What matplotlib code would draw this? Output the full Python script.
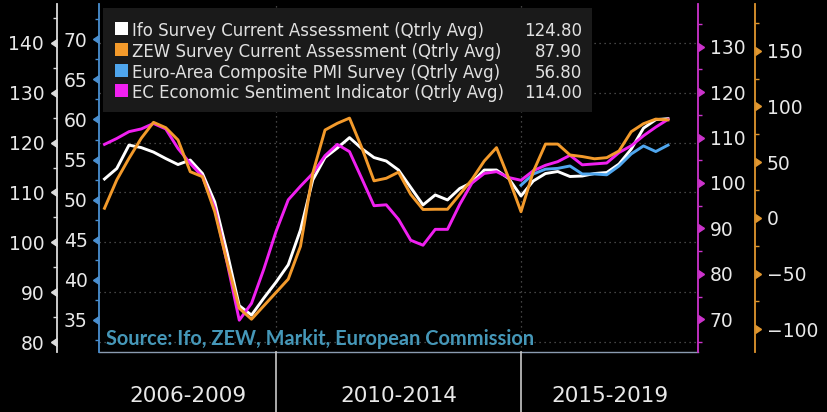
import matplotlib
matplotlib.use("Agg")
import matplotlib.pyplot as plt
import matplotlib.transforms as mtransforms
from matplotlib.lines import Line2D
from matplotlib.patches import Rectangle
from matplotlib.ticker import FixedLocator, MultipleLocator
import pandas as pd

# ---------------- data ----------------
quarters = pd.period_range("2006Q3", "2018Q1", freq="Q")
pmi_quarters = pd.period_range("2015Q1", "2018Q1", freq="Q")

ifo = [112.7, 114.8, 119.5, 119.0, 118.1, 116.8, 115.6, 116.5, 113.8, 108.1,
       98.1, 87.3, 85.4, 88.8, 92.0, 95.5, 102.5, 112.5, 117.0, 118.9,
       121.0, 118.8, 117.0, 116.3, 114.5, 111.0, 107.5, 109.5, 108.5, 110.8,
       112.0, 114.5, 114.5, 112.8, 109.3, 112.3, 113.8, 114.2, 113.2, 113.3,
       113.8, 114.0, 115.7, 118.7, 122.9, 124.6, 124.8]
zew = [8.6, 34.0, 53.4, 71.4, 85.7, 80.9, 69.9, 41.4, 36.9, 5.5,
       -39.3, -81.2, -91.0, -79.0, -67.0, -55.0, -25.5, 40.0, 78.8, 84.8,
       89.5, 63.0, 33.2, 35.5, 41.0, 21.0, 7.5, 7.7, 7.7, 21.0,
       34.5, 51.0, 63.0, 35.5, 5.5, 41.4, 66.2, 66.2, 56.4, 55.0,
       53.0, 54.0, 60.0, 77.3, 84.5, 88.6, 87.9]
esi = [108.5, 109.8, 111.3, 111.9, 113.1, 111.9, 107.6, 104.3, 101.4, 94.4,
       82.6, 69.8, 73.5, 81.0, 89.3, 96.3, 99.3, 102.1, 106.0, 108.5,
       106.9, 101.0, 95.0, 95.2, 92.0, 87.4, 86.3, 89.8, 89.8, 95.3,
       100.0, 102.1, 102.5, 101.2, 100.6, 102.7, 103.9, 104.7, 106.1, 104.0,
       104.2, 104.4, 106.7, 108.2, 110.4, 112.3, 114.0]
pmi = [51.8, 53.2, 53.8, 53.9, 54.2, 53.2, 53.2, 53.1, 54.2, 55.7, 56.7, 56.0, 56.8]

names = ["Ifo Survey Current Assessment (Qtrly Avg)",
         "ZEW Survey Current Assessment (Qtrly Avg)",
         "Euro-Area Composite PMI Survey (Qtrly Avg)",
         "EC Economic Sentiment Indicator (Qtrly Avg)"]

period_labels = ["2006-2009", "2010-2014", "2015-2019"]
period_starts = [2006, 2010, 2015]
period_ends = [2010, 2015, 2020]

ifo_ticks = [80, 90, 100, 110, 120, 130, 140]
pmi_ticks = [35, 40, 45, 50, 55, 60, 65, 70]
esi_ticks = [70, 80, 90, 100, 110, 120, 130]
zew_ticks = [-100, -50, 0, 50, 100, 150]
source_text = "Source: Ifo, ZEW, Markit, European Commission"

# ---------------- style ----------------
WHITE = "#ffffff"
ORANGE = "#f39a2b"
BLUE = "#4fa6ee"
MAGENTA = "#f020f0"
TXT = "#e8e8e8"

W, H = 827, 412
L, R, T, B = 99, 698, 4, 352

def fx(p):
    return p / W

def fy(p):
    return 1 - p / H

def qpos(periods):
    return [p.year + (p.quarter - 1) / 4 for p in periods]

x = qpos(quarters)
xp = qpos(pmi_quarters)

fig = plt.figure(figsize=(W / 100, H / 100), dpi=100, facecolor="black")
ax = fig.add_axes([fx(L), fy(B), (R - L) / W, (B - T) / H])
ax.set_facecolor("black")
ax_pmi = ax.twinx()
ax_esi = ax.twinx()
ax_zew = ax.twinx()


def setup(a, side, pos, color, lim, ticks, minor, pad):
    a.set_ylim(*lim)
    for s in a.spines.values():
        s.set_visible(False)
    sp = a.spines[side]
    sp.set_visible(True)
    sp.set_position(("axes", pos))
    sp.set_color(color)
    sp.set_linewidth(1.3)
    if side == "left":
        a.yaxis.tick_left()
    else:
        a.yaxis.tick_right()
    a.yaxis.set_major_locator(FixedLocator(ticks))
    a.yaxis.set_minor_locator(MultipleLocator(minor))
    a.tick_params(axis="y", which="major", direction="out", length=6, width=1,
                  color=color, pad=pad, labelsize=13.5, labelcolor=TXT)
    a.tick_params(axis="y", which="minor", direction="out", length=3, width=1,
                  color=color)
    marker = 8 if side == "left" else 9
    for t in a.yaxis.get_major_ticks():
        t.tick1line.set_marker(marker)
        t.tick2line.set_marker(marker)


setup(ax, "left", (57 - L) / (R - L), "#dcdcdc", (78.0, 147.8), ifo_ticks, 5, 3.2)
setup(ax_pmi, "left", 0.0, "#4a8fd0", (31.0, 74.4), pmi_ticks, 2.5, 2.2)
setup(ax_esi, "right", 1.0, "#cc33cc", (62.8, 139.4), esi_ticks, 5, 2.6)
setup(ax_zew, "right", (755 - L) / (R - L), "#e0962e", (-120.4, 191.9), zew_ticks, 25, 2.6)

ax.spines["bottom"].set_visible(True)
ax.spines["bottom"].set_color("#8a9bb0")
ax.spines["bottom"].set_linewidth(1.0)

ax.set_xticks(period_starts[1:])
ax.tick_params(axis="x", length=0, labelbottom=False)
ax.grid(True, axis="both", which="major", color="#5a5a5a", linestyle=(0, (1, 3)), linewidth=0.9)
ax.yaxis.grid(False, which="minor")

ax.plot(x, ifo, color=WHITE, lw=2.1, solid_joinstyle="round")
ax_pmi.plot(xp, pmi, color=BLUE, lw=2.1, solid_joinstyle="round")
ax_esi.plot(x, esi, color=MAGENTA, lw=2.1, solid_joinstyle="round")
ax_zew.plot(x, zew, color=ORANGE, lw=2.1, solid_joinstyle="round")

x0 = 2010 - (276 - L) / 49.0
x1 = 2010 + (R - 276) / 49.0
ax.set_xlim(x0, x1)

# bottom period labels and separators
blend = mtransforms.blended_transform_factory(ax.transData, fig.transFigure)
for lab, s, e in zip(period_labels, period_starts, period_ends):
    a0, a1 = max(s, x0), min(e, x1)
    fig.text((a0 + a1) / 2, fy(401.5), lab, transform=blend, ha="center", va="baseline",
             fontsize=15.5, color=TXT)
for b in period_starts[1:]:
    fig.add_artist(Line2D([b, b], [0, fy(B)], transform=blend, color="#c8c8c8", lw=1.2))

# source text
fig.text(fx(106), fy(345), source_text, ha="left", va="baseline",
         fontsize=14.4, fontweight="bold", family=["Lato", "DejaVu Sans"], color="#4597b8", zorder=8)

# legend box
fig.add_artist(Rectangle((fx(103), fy(112)), (592 - 103) / W, (112 - 8) / H,
                         transform=fig.transFigure, facecolor="#1a1a1a", edgecolor="none", zorder=5))
colors = [WHITE, ORANGE, BLUE, MAGENTA]
last_vals = [ifo[-1], zew[-1], pmi[-1], esi[-1]]
for i, (nm, c, v) in enumerate(zip(names, colors, last_vals)):
    base = 36.0 + 20.8 * i
    fig.add_artist(Rectangle((fx(115), fy(base - 1)), 13 / W, 13 / H, transform=fig.transFigure,
                             facecolor=c, edgecolor="none", zorder=6))
    fig.text(fx(132), fy(base), nm, ha="left", va="baseline", fontsize=12.0, color="#e0e0e0", zorder=7)
    fig.text(fx(582), fy(base), f"{v:.2f}", ha="right", va="baseline", fontsize=12.0, color="#e0e0e0", zorder=7)

fig.savefig("out.png", dpi=100, facecolor="black")
